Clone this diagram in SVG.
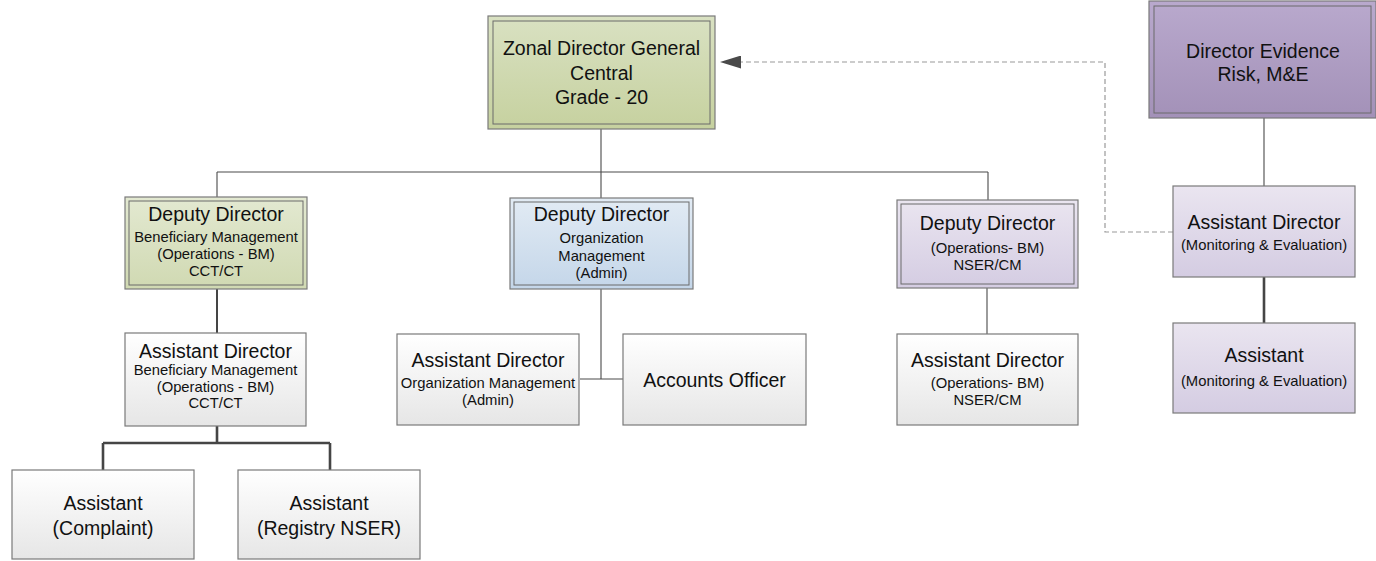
<svg xmlns="http://www.w3.org/2000/svg" width="1376" height="561" viewBox="0 0 1376 561">
<defs>
<linearGradient id="gZonal" x1="0" y1="0" x2="0" y2="1"><stop offset="0" stop-color="#d9e1c2"/><stop offset="1" stop-color="#c6d19f"/></linearGradient>
<linearGradient id="gDepG" x1="0" y1="0" x2="0" y2="1"><stop offset="0" stop-color="#e3e9d1"/><stop offset="1" stop-color="#d0d9b2"/></linearGradient>
<linearGradient id="gBlue" x1="0" y1="0" x2="0" y2="1"><stop offset="0" stop-color="#e2ebf4"/><stop offset="1" stop-color="#c4d6e9"/></linearGradient>
<linearGradient id="gPurp" x1="0" y1="0" x2="0" y2="1"><stop offset="0" stop-color="#b9a9cd"/><stop offset="1" stop-color="#a391b8"/></linearGradient>
<linearGradient id="gLav" x1="0" y1="0" x2="0" y2="1"><stop offset="0" stop-color="#eae5f0"/><stop offset="1" stop-color="#d4cce2"/></linearGradient>
<linearGradient id="gGrey" x1="0" y1="0" x2="0" y2="1"><stop offset="0" stop-color="#ffffff"/><stop offset="1" stop-color="#e6e6e6"/></linearGradient>
<marker id="arr" viewBox="0 0 21 13" refX="0" refY="6.5" markerWidth="21" markerHeight="13" markerUnits="userSpaceOnUse" orient="auto">
<path d="M0,0 L21,6.5 L0,13 Z" fill="#4a4a4a"/>
</marker>
<style>
.box{stroke:#7a7a7a;stroke-width:1.2}
.inner{fill:none;stroke:#6a6a6a;stroke-width:1}
.t{font-family:"Liberation Sans",Arial,sans-serif;fill:#111111;text-anchor:middle}
.big{font-size:19.5px}
.sm{font-size:14.8px}
.thin{fill:none;stroke:#4a4a4a;stroke-width:1.1}
.thick{fill:none;stroke:#454545;stroke-width:2.6}
.dash{fill:none;stroke:#9a9a9a;stroke-width:1.2;stroke-dasharray:5 3}
</style>
</defs>
<rect width="1376" height="561" fill="#ffffff"/>

<g id="connectors">
<path class="thin" d="M601,129 V172 M217,172 H988 M217,172 V197 M601,172 V198 M988,172 V200"/>
<path class="thick" d="M217,289 V333" style="stroke-width:2"/>
<path class="thick" d="M217,426 V443 M103,443 H330 M103,443 V470 M330,443 V470"/>
<path class="thin" d="M601,289 V379 M580,379 H623"/>
<path class="thin" d="M987,288 V334"/>
<path class="thin" d="M1264,118 V186"/>
<path class="thick" d="M1264,277 V323"/>
<path class="dash" d="M1173,232 H1105 V62 H741" marker-end="url(#arr)"/>
</g>

<g id="zonal">
<rect class="box" x="488" y="16" width="227" height="113" fill="url(#gZonal)"/>
<rect class="inner" x="493" y="21" width="217" height="103"/>
<text class="t big" x="601.5" y="55">Zonal Director General</text>
<text class="t big" x="601.5" y="80">Central</text>
<text class="t big" x="601.5" y="104">Grade - 20</text>
</g>

<g id="dir-evidence">
<rect class="box" x="1149" y="1" width="227" height="117" fill="url(#gPurp)"/>
<rect class="inner" x="1154" y="6" width="217" height="107"/>
<text class="t big" x="1263" y="58">Director Evidence</text>
<text class="t big" x="1263" y="81">Risk, M&amp;E</text>
</g>

<g id="dep-bm">
<rect class="box" x="125" y="197" width="182" height="92" fill="url(#gDepG)"/>
<rect class="inner" x="129" y="201" width="174" height="84"/>
<text class="t big" x="216" y="221">Deputy Director</text>
<text class="t sm" x="216" y="242">Beneficiary Management</text>
<text class="t sm" x="216" y="259">(Operations - BM)</text>
<text class="t sm" x="216" y="276">CCT/CT</text>
</g>

<g id="dep-org">
<rect class="box" x="510" y="198" width="183" height="91" fill="url(#gBlue)"/>
<rect class="inner" x="514" y="202" width="175" height="83"/>
<text class="t big" x="601.5" y="221">Deputy Director</text>
<text class="t sm" x="601.5" y="243">Organization</text>
<text class="t sm" x="601.5" y="261">Management</text>
<text class="t sm" x="601.5" y="278">(Admin)</text>
</g>

<g id="dep-nser">
<rect class="box" x="897" y="200" width="181" height="88" fill="url(#gLav)"/>
<rect class="inner" x="901" y="204" width="173" height="80"/>
<text class="t big" x="987.5" y="230">Deputy Director</text>
<text class="t sm" x="987.5" y="253">(Operations- BM)</text>
<text class="t sm" x="987.5" y="270">NSER/CM</text>
</g>

<g id="ad-me">
<rect class="box" x="1173" y="186" width="182" height="91" fill="url(#gLav)"/>
<text class="t big" x="1264" y="229">Assistant Director</text>
<text class="t sm" x="1264" y="250">(Monitoring &amp; Evaluation)</text>
</g>

<g id="as-me">
<rect class="box" x="1173" y="323" width="182" height="90" fill="url(#gLav)"/>
<text class="t big" x="1264" y="362">Assistant</text>
<text class="t sm" x="1264" y="386">(Monitoring &amp; Evaluation)</text>
</g>

<g id="ad-bm">
<rect class="box" x="125" y="333" width="181" height="93" fill="url(#gGrey)"/>
<text class="t big" x="215.5" y="358">Assistant Director</text>
<text class="t sm" x="215.5" y="375">Beneficiary Management</text>
<text class="t sm" x="215.5" y="392">(Operations - BM)</text>
<text class="t sm" x="215.5" y="408">CCT/CT</text>
</g>

<g id="ad-org">
<rect class="box" x="397" y="334" width="182" height="91" fill="url(#gGrey)"/>
<text class="t big" x="488" y="367">Assistant Director</text>
<text class="t sm" x="488" y="388">Organization Management</text>
<text class="t sm" x="488" y="405">(Admin)</text>
</g>

<g id="accounts">
<rect class="box" x="623" y="334" width="183" height="91" fill="url(#gGrey)"/>
<text class="t big" x="714.5" y="387">Accounts Officer</text>
</g>

<g id="ad-nser">
<rect class="box" x="897" y="334" width="181" height="91" fill="url(#gGrey)"/>
<text class="t big" x="987.5" y="367">Assistant Director</text>
<text class="t sm" x="987.5" y="388">(Operations- BM)</text>
<text class="t sm" x="987.5" y="405">NSER/CM</text>
</g>

<g id="as-complaint">
<rect class="box" x="12" y="470" width="182" height="89" fill="url(#gGrey)"/>
<text class="t big" x="103" y="510">Assistant</text>
<text class="t big" x="103" y="535">(Complaint)</text>
</g>

<g id="as-registry">
<rect class="box" x="238" y="470" width="182" height="89" fill="url(#gGrey)"/>
<text class="t big" x="329" y="510">Assistant</text>
<text class="t big" x="329" y="535">(Registry NSER)</text>
</g>
</svg>
